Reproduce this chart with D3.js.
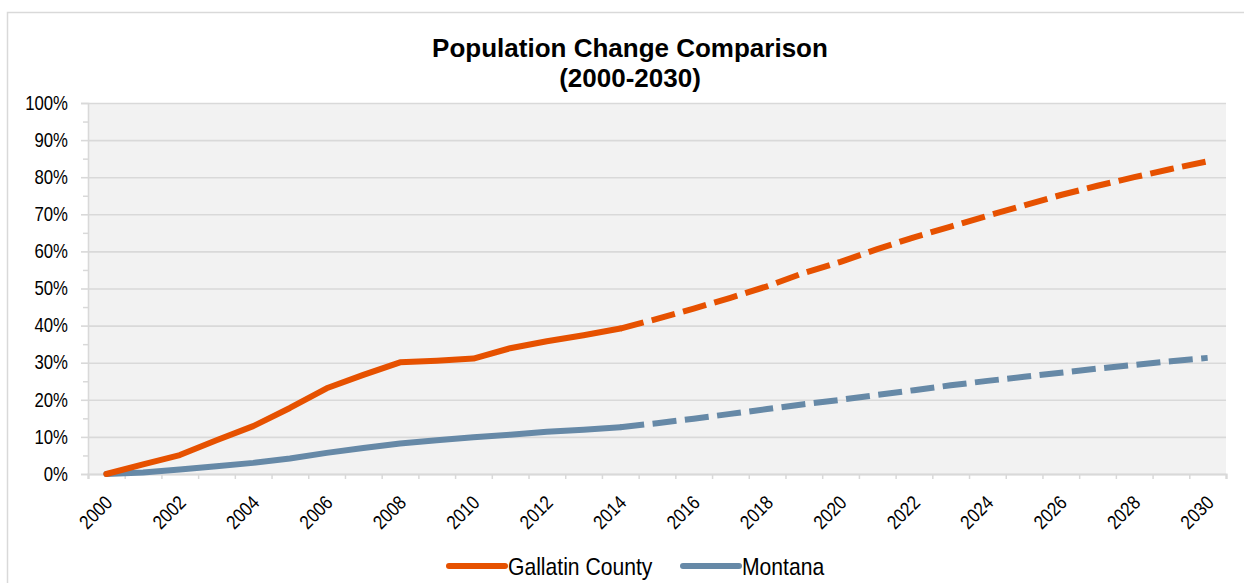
<!DOCTYPE html>
<html>
<head>
<meta charset="utf-8">
<script src="https://cdn.jsdelivr.net/npm/d3@7"></script>
<style>
  html, body { margin: 0; padding: 0; background: #ffffff; }
  svg { display: block; }
</style>
</head>
<body>
<svg id="chart" width="1244" height="583"></svg>
<script>
// Population change relative to 2000, estimates through 2014 then projections
const years = d3.range(2000, 2031);
const gallatin = [0, 2.6, 5.1, 9.1, 12.9, 17.8, 23.1, 26.7, 30.1, 30.5, 31.1, 33.9, 35.8, 37.4, 39.2,
                  41.8, 44.6, 47.5, 50.6, 54.2, 57.2, 60.6, 63.8, 66.7, 69.6, 72.4, 75.2, 77.7, 80.0, 82.2, 84.3];
const montana  = [0, 0.4, 1.2, 2.1, 3.0, 4.2, 5.7, 7.0, 8.2, 9.1, 9.9, 10.6, 11.4, 11.9, 12.6,
                  13.7, 14.9, 16.2, 17.5, 18.8, 20.0, 21.3, 22.6, 23.9, 25.1, 26.2, 27.3, 28.4, 29.4, 30.4, 31.3];
const lastEstimateYear = 2014;
const seriesNames = ["Gallatin County", "Montana"];
const seriesColors = ["#e65100", "#6689a7"];
const yTickValues = d3.range(0, 101, 10);
const xLabelYears = d3.range(2000, 2031, 2);
const titleLines = ["Population Change Comparison", "(2000-2030)"];

const svg = d3.select("#chart");
const axisFont = "'Liberation Sans', Arial, sans-serif";
const condense = 0.86;   // horizontal squeeze for axis and legend text

// outer chart frame
svg.append("rect")
  .attr("x", 7.5).attr("y", 12.5).attr("width", 1300).attr("height", 640)
  .attr("fill", "#ffffff").attr("stroke", "#d9d9d9").attr("stroke-width", 1.5);

const plot = { left: 88, right: 1226, top: 103, bottom: 474 };

// each year occupies one category slot; points sit at slot centres
const x = d3.scaleLinear().domain([1999.5, 2030.5]).range([plot.left, plot.right]);
const y = d3.scaleLinear().domain([0, 100]).range([plot.bottom, plot.top]);

svg.append("rect")
  .attr("x", plot.left).attr("y", plot.top)
  .attr("width", plot.right - plot.left).attr("height", plot.bottom - plot.top)
  .attr("fill", "#f2f2f2");

// horizontal gridlines
svg.append("g")
  .attr("transform", `translate(${plot.left},0)`)
  .call(d3.axisLeft(y).tickValues(yTickValues).tickSize(-(plot.right - plot.left)).tickFormat(""))
  .call(g => g.select(".domain").remove())
  .call(g => g.selectAll("line").attr("stroke", "#d9d9d9").attr("stroke-width", 1.6));

// minor y ticks
svg.append("g")
  .attr("transform", `translate(${plot.left},0)`)
  .call(d3.axisLeft(y).tickValues(d3.range(5, 100, 10)).tickSize(5).tickFormat(""))
  .call(g => g.select(".domain").remove())
  .call(g => g.selectAll("line").attr("stroke", "#d9d9d9").attr("stroke-width", 1.5));

// major y ticks and labels
svg.append("g")
  .attr("transform", `translate(${plot.left},0)`)
  .call(d3.axisLeft(y).tickValues(yTickValues).tickSize(7).tickPadding(13).tickFormat(d => d + "%"))
  .call(g => g.select(".domain").attr("stroke", "#d9d9d9").attr("stroke-width", 1.6))
  .call(g => g.selectAll("line").attr("stroke", "#d9d9d9").attr("stroke-width", 1.6))
  .call(g => g.selectAll("text")
    .attr("x", -20 / condense)
    .attr("transform", `scale(${condense},1)`)
    .attr("fill", "#000").style("font-size", "19.5px").style("font-family", axisFont));

// x axis: ticks between categories
svg.append("g")
  .attr("transform", `translate(0,${plot.bottom})`)
  .call(d3.axisBottom(x).tickValues(d3.range(1999.5, 2031, 1)).tickSize(5).tickFormat(""))
  .call(g => g.select(".domain").attr("stroke", "#d9d9d9").attr("stroke-width", 2.2))
  .call(g => g.selectAll("line").attr("stroke", "#d9d9d9").attr("stroke-width", 1.5));

// x labels, rotated
svg.append("g")
  .attr("transform", `translate(0,${plot.bottom})`)
  .call(d3.axisBottom(x).tickValues(xLabelYears).tickSize(0).tickFormat(d3.format("d")))
  .call(g => g.select(".domain").remove())
  .call(g => g.selectAll("text")
    .attr("x", 0).attr("y", 0).attr("dy", "0.35em")
    .attr("text-anchor", "end")
    .attr("transform", `translate(2,25) rotate(-45) scale(${condense},1)`)
    .attr("fill", "#000").style("font-size", "19.5px").style("font-family", axisFont));

// series lines: solid for estimates, dashed for projections
const line = d3.line().x(d => x(d.year)).y(d => y(d.value));
const series = [gallatin, montana].map((vals, i) => ({
  name: seriesNames[i],
  color: seriesColors[i],
  points: years.map((yr, j) => ({ year: yr, value: vals[j] }))
}));

series.slice().reverse().forEach(s => {
  svg.append("path")
    .datum(s.points.filter(p => p.year >= lastEstimateYear))
    .attr("d", line)
    .attr("fill", "none").attr("stroke", s.color).attr("stroke-width", 6)
    .attr("stroke-dasharray", "24,8.5").attr("stroke-linejoin", "round");
  svg.append("path")
    .datum(s.points.filter(p => p.year <= lastEstimateYear))
    .attr("d", line)
    .attr("fill", "none").attr("stroke", s.color).attr("stroke-width", 6)
    .attr("stroke-linecap", "round").attr("stroke-linejoin", "round");
});

// title
svg.append("text")
  .attr("x", 630).attr("y", 57)
  .attr("text-anchor", "middle")
  .style("font-family", "'Liberation Sans', Arial, sans-serif")
  .style("font-weight", "bold").style("font-size", "26px")
  .selectAll("tspan").data(titleLines).join("tspan")
  .attr("x", 630).attr("dy", (d, i) => i === 0 ? 0 : 30)
  .text(d => d);

// legend
const legendX = [449, 683];
const legend = svg.append("g");
series.forEach((s, i) => {
  legend.append("line")
    .attr("x1", legendX[i]).attr("x2", legendX[i] + 56)
    .attr("y1", 566).attr("y2", 566)
    .attr("stroke", s.color).attr("stroke-width", 6).attr("stroke-linecap", "round");
  legend.append("text")
    .attr("transform", `translate(${legendX[i] + 59},575) scale(0.88,1)`)
    .attr("fill", "#000").style("font-size", "24px").style("font-family", axisFont)
    .text(s.name);
});
</script>
</body>
</html>
